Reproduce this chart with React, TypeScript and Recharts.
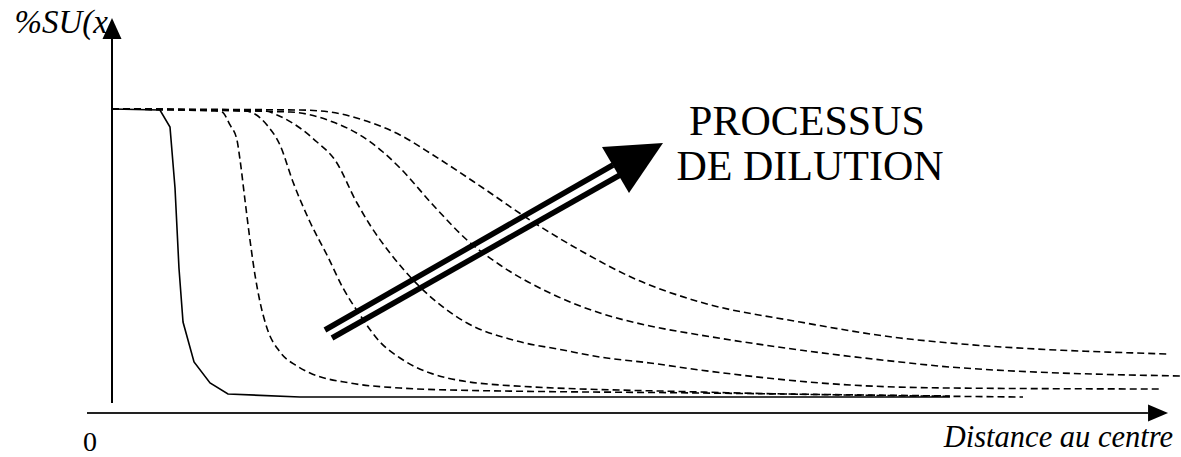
import React from "react";
import { LineChart, Line, XAxis, YAxis, ReferenceLine, ReferenceDot } from "recharts";

// Distance au centre (0..100) vs %SU(x) (0..100)
const curveSolid = [
  { x: 0, y: 100 }, { x: 4.49, y: 99.67 }, { x: 5.43, y: 94.08 }, { x: 5.9, y: 74.01 },
  { x: 6.27, y: 47.7 }, { x: 6.65, y: 29.93 }, { x: 7.68, y: 16.78 }, { x: 9.18, y: 9.87 },
  { x: 10.86, y: 6.25 }, { x: 17.6, y: 5.26 }, { x: 78.46, y: 5.26 },
];
const curveB = [
  { x: 0, y: 100 }, { x: 9.64, y: 99.34 }, { x: 10.3, y: 99.01 }, { x: 11.05, y: 94.74 },
  { x: 11.7, y: 89.8 }, { x: 11.99, y: 83.22 }, { x: 12.45, y: 70.07 }, { x: 12.92, y: 56.91 },
  { x: 13.39, y: 45.39 }, { x: 13.86, y: 36.51 }, { x: 14.51, y: 27.96 }, { x: 15.73, y: 20.07 },
  { x: 17.32, y: 15.46 }, { x: 18.54, y: 13.16 }, { x: 22.28, y: 9.87 }, { x: 26.97, y: 8.22 },
  { x: 31.65, y: 7.57 }, { x: 55.06, y: 6.58 }, { x: 78.46, y: 5.59 },
];
const curveC = [
  { x: 0, y: 100 }, { x: 12.45, y: 99.34 }, { x: 13.2, y: 98.68 }, { x: 14.51, y: 94.74 },
  { x: 15.73, y: 88.16 }, { x: 16.95, y: 75.99 }, { x: 18.54, y: 62.83 }, { x: 20.13, y: 51.97 },
  { x: 21.63, y: 41.12 }, { x: 23.22, y: 32.24 }, { x: 25.09, y: 23.36 }, { x: 26.97, y: 18.09 },
  { x: 29.78, y: 13.16 }, { x: 36.33, y: 9.21 }, { x: 55.06, y: 6.91 }, { x: 85.3, y: 5.26 },
];
const curveD = [
  { x: 0, y: 100 }, { x: 14.33, y: 99.34 }, { x: 15.45, y: 98.03 }, { x: 17.6, y: 93.75 },
  { x: 19.19, y: 89.14 }, { x: 20.88, y: 83.22 }, { x: 22.94, y: 69.08 }, { x: 24.16, y: 61.84 },
  { x: 26.03, y: 52.63 }, { x: 28.84, y: 41.45 }, { x: 33.24, y: 29.61 }, { x: 37.55, y: 24.01 },
  { x: 42.23, y: 20.72 }, { x: 45.69, y: 18.42 }, { x: 50.37, y: 16.45 }, { x: 55.06, y: 14.14 },
  { x: 69.1, y: 9.21 }, { x: 78.46, y: 8.22 }, { x: 98.13, y: 7.89 },
];
const curveE = [
  { x: 0, y: 100 }, { x: 16.67, y: 99.01 }, { x: 20.69, y: 95.72 }, { x: 23.22, y: 91.45 },
  { x: 25.37, y: 85.86 }, { x: 26.97, y: 80.59 }, { x: 30.06, y: 68.42 }, { x: 33.24, y: 56.91 },
  { x: 36.33, y: 48.68 }, { x: 41.01, y: 39.47 }, { x: 45.69, y: 32.89 }, { x: 50.37, y: 28.62 },
  { x: 55.06, y: 25.66 }, { x: 64.42, y: 20.72 }, { x: 73.78, y: 16.78 }, { x: 78.46, y: 15.13 },
  { x: 100, y: 12.17 },
];
const curveF = [
  { x: 0, y: 100 }, { x: 17.6, y: 99.67 }, { x: 20.41, y: 99.01 }, { x: 23.5, y: 96.38 },
  { x: 26.97, y: 91.45 }, { x: 30.06, y: 84.87 }, { x: 34.74, y: 74.01 }, { x: 39.42, y: 62.83 },
  { x: 44.1, y: 52.96 }, { x: 48.78, y: 44.41 }, { x: 55.06, y: 36.51 }, { x: 64.42, y: 29.93 },
  { x: 73.78, y: 24.67 }, { x: 78.46, y: 23.03 }, { x: 98.88, y: 19.41 },
];
const dashedCurves = [curveB, curveC, curveD, curveE, curveF];

// axis and annotation geometry in data units
const yAxisSeg = [{ x: 0, y: 3.29 }, { x: 0, y: 123 }];
const yAxisTip = { x: 0, y: 129.93 };
const xAxisSeg = [{ x: -2.34, y: 0 }, { x: 97.0, y: 0 }];
const xAxisTip = { x: 98.88, y: 0 };
const arrowUpper = [{ x: 19.94, y: 27.3 }, { x: 46.91, y: 81.58 }];
const arrowLower = [{ x: 20.6, y: 24.67 }, { x: 47.57, y: 78.29 }];
const arrowTip = { x: 51.59, y: 88.82 };

const labelY = "%SU(x";
const labelX = "Distance au centre";
const labelZero = "0";
const annotation = ["PROCESSUS", "DE DILUTION"];

const serif = "'Liberation Serif', 'Times New Roman', serif";

export default function App() {
  return (
    <div style={{ position: "absolute", left: 0, top: 0, width: 1181, height: 457 }}>
      <LineChart width={1181} height={457} margin={{ top: 109, right: 1, bottom: 44, left: 112 }}>
        <XAxis type="number" dataKey="x" domain={[0, 100]} hide />
        <YAxis type="number" dataKey="y" domain={[0, 100]} hide />
        <ReferenceLine segment={yAxisSeg} stroke="#000" strokeWidth={2} ifOverflow="visible" />
        <ReferenceDot
          x={yAxisTip.x}
          y={yAxisTip.y}
          ifOverflow="visible"
          shape={(p: any) => (
            <polygon points={`${p.cx},${p.cy} ${p.cx - 9.5},${p.cy + 21} ${p.cx + 9.5},${p.cy + 21}`} fill="#000" />
          )}
        />
        <ReferenceLine segment={xAxisSeg} stroke="#222" strokeWidth={2} ifOverflow="visible" />
        <ReferenceDot
          x={xAxisTip.x}
          y={xAxisTip.y}
          ifOverflow="visible"
          shape={(p: any) => (
            <polygon points={`${p.cx},${p.cy} ${p.cx - 20},${p.cy - 8.5} ${p.cx - 20},${p.cy + 8.5}`} fill="#000" />
          )}
        />
        <Line
          data={curveSolid}
          dataKey="y"
          type="linear"
          stroke="#000"
          strokeWidth={1.6}
          dot={false}
          isAnimationActive={false}
        />
        {dashedCurves.map((c, i) => (
          <Line
            key={i}
            data={c}
            dataKey="y"
            type="monotone"
            stroke="#000"
            strokeWidth={1.6}
            strokeDasharray="7 4"
            dot={false}
            isAnimationActive={false}
          />
        ))}
        <ReferenceLine segment={arrowUpper} stroke="#000" strokeWidth={5.5} ifOverflow="visible" />
        <ReferenceLine segment={arrowLower} stroke="#000" strokeWidth={5.5} ifOverflow="visible" />
        <ReferenceDot
          x={arrowTip.x}
          y={arrowTip.y}
          ifOverflow="visible"
          shape={(p: any) => (
            <polygon points={`${p.cx},${p.cy} ${p.cx - 61},${p.cy + 4} ${p.cx - 34},${p.cy + 50}`} fill="#000" />
          )}
        />
        <text x={108} y={33} textAnchor="end" fontFamily={serif} fontStyle="italic" fontSize={33} fill="#000">
          {labelY}
        </text>
        <text x={83} y={451} fontFamily={serif} fontSize={28} fill="#000">
          {labelZero}
        </text>
        <text x={1173} y={447} textAnchor="end" fontFamily={serif} fontStyle="italic" fontSize={30.5} fill="#000">
          {labelX}
        </text>
        <text x={807} y={135} textAnchor="middle" fontFamily={serif} fontSize={42} fill="#000">
          {annotation[0]}
        </text>
        <text x={810} y={180} textAnchor="middle" fontFamily={serif} fontSize={42} fill="#000">
          {annotation[1]}
        </text>
      </LineChart>
    </div>
  );
}
